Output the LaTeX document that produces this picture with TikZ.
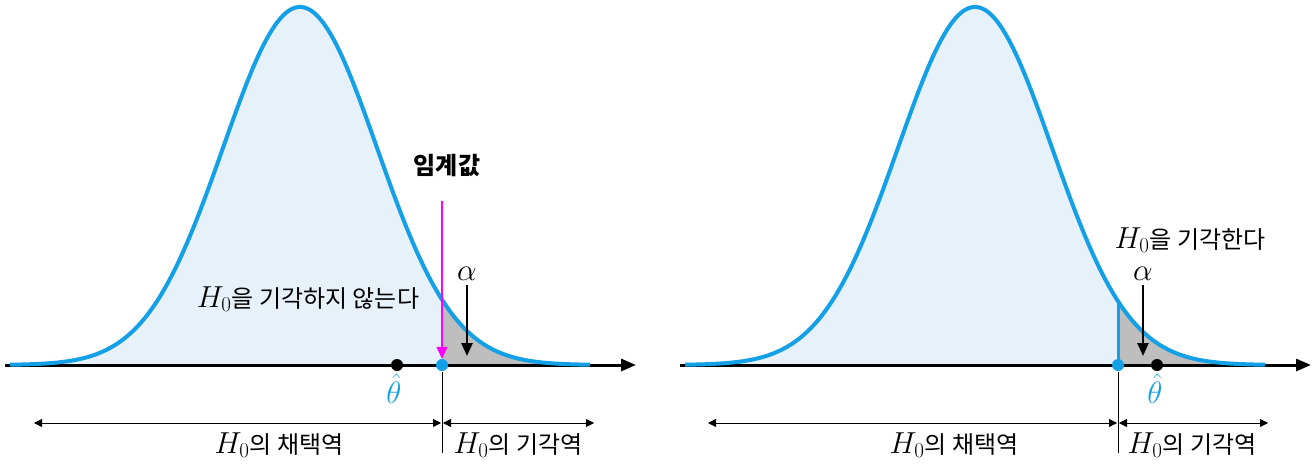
\documentclass[tikz,border=0pt]{standalone}
\usepackage{fontspec}
\setmainfont{Noto Sans CJK KR}
\usetikzlibrary{arrows.meta}
\definecolor{curveblue}{HTML}{14A0E6}
\definecolor{fillblue}{HTML}{E6F1FA}
\definecolor{tailgray}{HTML}{BEBEBE}
\definecolor{pink}{HTML}{FF00FF}
\newcommand\HnullSym{\scalebox{1.22}{$H_0$}}
\newcommand\BigMath[1]{\scalebox{1.25}{$#1$}}
\begin{document}
\begin{tikzpicture}[x=1pt,y=-1pt,
  declare function={bell(\t,\m)=365-358*exp(-0.5*((\t-\m)/77)^2);},
  lbl/.style={font=\fontsize{24}{28}\selectfont, inner sep=0pt},
  curve/.style={curveblue, line width=4pt},
  axisline/.style={line width=3pt, -{Triangle[length=15pt,width=12pt]}},
  span/.style={line width=0.9pt, {Triangle[length=8pt,width=8pt]}-{Triangle[length=8pt,width=8pt]}},
  tickline/.style={line width=0.8pt},
  dotb/.style={circle, fill=black, minimum size=12pt, inner sep=0pt},
  dotc/.style={circle, fill=curveblue, minimum size=12pt, inner sep=0pt},
  downarrow/.style={line width=2.5pt, -{Triangle[length=13pt,width=11pt]}, shorten <=4pt},
]
\useasboundingbox (0,0) rectangle (1315,466);

% ---------------- left panel ----------------
\fill[fillblue] (10,365) -- plot[domain=10:442,samples=150] (\x,{bell(\x,300)}) -- (442,365) -- cycle;
\fill[tailgray] (442,365) -- plot[domain=442:590,samples=60] (\x,{bell(\x,300)}) -- (590,365) -- cycle;
\coordinate (axL0) at (5,365);
\coordinate (axL1) at (636,365);
\draw[axisline] (axL0) -- (axL1);
\draw[curve] plot[domain=10:590,samples=220] (\x,{bell(\x,300)});

\node[dotb] (thL) at (397,365) {};
\node[dotc] (cvL) at (442,365) {};
\node[lbl, text=curveblue] (thlabL) at (394,389) {\BigMath{\hat\theta}};

\node[lbl, font=\fontsize{24}{28}\selectfont\bfseries] (crit) at (447,165) {임계값};
\coordinate (mgL) at (442,201);
\draw[pink, line width=1.2pt, -{Triangle[length=12pt,width=11pt]}] (mgL) -- (cvL.north);

\node[lbl] (alL) at (467,274) {\BigMath{\alpha}};
\coordinate (alLt) at (467,356);
\draw[downarrow] (alL) -- (alLt);

\node[lbl] (accL) at (308,299) {\HnullSym 을 기각하지 않는다};

\coordinate (tkL0) at (442,372);
\coordinate (tkL1) at (442,453);
\draw[tickline] (tkL0) -- (tkL1);
\coordinate (spL0) at (34,423);
\coordinate (spL1) at (441,423);
\coordinate (spL2) at (443,423);
\coordinate (spL3) at (594,423);
\draw[span] (spL0) -- (spL1);
\draw[span] (spL2) -- (spL3);
\node[lbl] (regL1) at (279,445) {\HnullSym 의 채택역};
\node[lbl] (regL2) at (518,445) {\HnullSym 의 기각역};

% ---------------- right panel ----------------
\fill[fillblue] (685,365) -- plot[domain=685:1118,samples=150] (\x,{bell(\x,975)}) -- (1118,365) -- cycle;
\fill[tailgray] (1118,365) -- plot[domain=1118:1265,samples=60] (\x,{bell(\x,975)}) -- (1265,365) -- cycle;
\coordinate (axR0) at (680,365);
\coordinate (axR1) at (1311,365);
\draw[axisline] (axR0) -- (axR1);
\draw[curve] plot[domain=685:1265,samples=220] (\x,{bell(\x,975)});

\node[dotc] (cvR) at (1118,365) {};
\coordinate (cvRtop) at (1118,{bell(1118,975)});
\draw[curveblue, line width=3pt] (cvR.center) -- (cvRtop);
\node[dotb] (thR) at (1157,365) {};
\node[lbl, text=curveblue] (thlabR) at (1155,389) {\BigMath{\hat\theta}};

\node[lbl] (alR) at (1143,274) {\BigMath{\alpha}};
\coordinate (alRt) at (1143,356);
\draw[downarrow] (alR) -- (alRt);

\node[lbl] (rejR) at (1190,240) {\HnullSym 을 기각한다};

\coordinate (tkR0) at (1118,372);
\coordinate (tkR1) at (1118,453);
\draw[tickline] (tkR0) -- (tkR1);
\coordinate (spR0) at (708,423);
\coordinate (spR1) at (1117,423);
\coordinate (spR2) at (1119,423);
\coordinate (spR3) at (1268,423);
\draw[span] (spR0) -- (spR1);
\draw[span] (spR2) -- (spR3);
\node[lbl] (regR1) at (954,445) {\HnullSym 의 채택역};
\node[lbl] (regR2) at (1192,445) {\HnullSym 의 기각역};
\end{tikzpicture}
\end{document}
